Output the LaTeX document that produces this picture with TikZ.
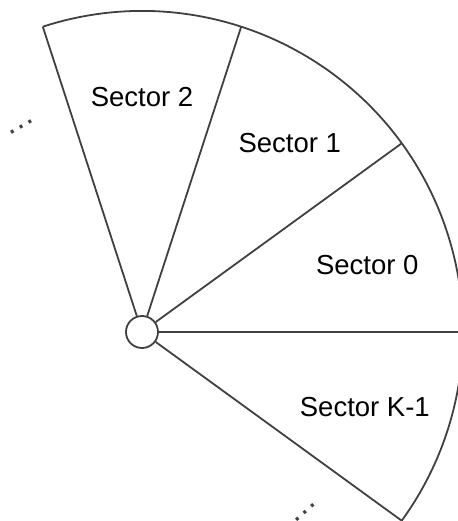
\documentclass[tikz,border=0pt]{standalone}
\usepackage{fontspec}
\setmainfont{Liberation Sans}
\usetikzlibrary{positioning}
\definecolor{darkgray}{gray}{0.25}

\begin{document}
\begin{tikzpicture}[
  x=1pt, y=1pt,
  edge/.style={draw=darkgray, line width=1.8pt},
  hubnode/.style={circle, edge, minimum size=32pt, inner sep=0pt},
  sectorlabel/.style={font=\fontsize{27.5}{33}\selectfont, text=black},
  moredots/.style={font=\fontsize{32}{36}\selectfont, text=darkgray, inner sep=0pt, anchor=base, rotate=#1},
]
  \useasboundingbox (-142,-189) rectangle (315,332);

  \node[hubnode] (hub) at (0,0) {};
  \coordinate (rim2) at (108:321);
  \coordinate (rim1) at (72:321);
  \coordinate (rim0) at (36:321);
  \coordinate (rimA) at (0:321);
  \coordinate (rimK) at (-36:321);

  \draw[edge] (hub) -- (rim2);
  \draw[edge] (hub) -- (rim1);
  \draw[edge] (hub) -- (rim0);
  \draw[edge] (hub) -- (rimA);
  \draw[edge] (hub) -- (rimK);
  \draw[edge] (rim2) arc[start angle=108, end angle=-36, radius=321];

  \node[sectorlabel] (s2) at (90:235) {Sector 2};
  \node[sectorlabel] (s1) at (52:240) {Sector 1};
  \node[sectorlabel] (s0) at (16.5:235) {Sector 0};
  \node[sectorlabel] (sk) at (-18.5:235) {Sector K-1};

  \node[moredots=30] (dotsup) at (120.5:236) {…};
  \node[moredots=42] (dotsdown) at (-48:245) {…};
\end{tikzpicture}
\end{document}
